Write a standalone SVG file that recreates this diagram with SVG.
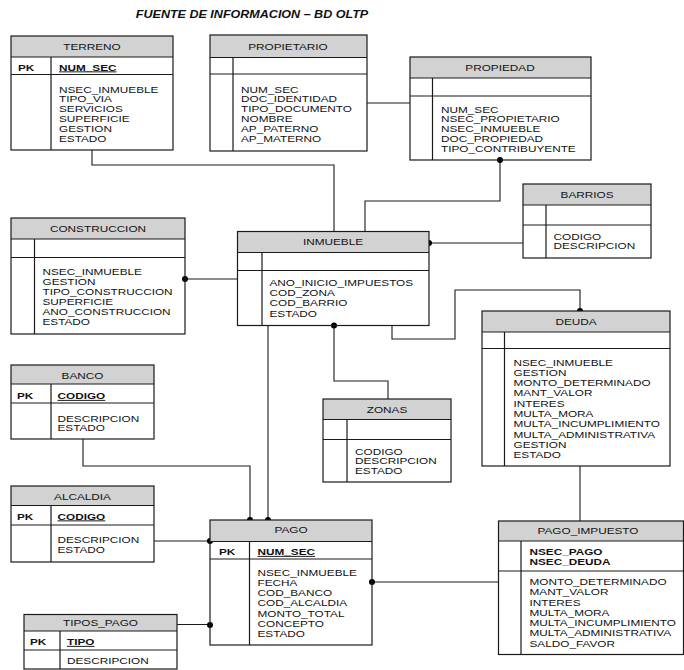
<svg xmlns="http://www.w3.org/2000/svg" width="684" height="670" viewBox="0 0 684 670">
<style>
  .hd{fill:#d2d2d2;stroke:none}
  .bx{fill:none;stroke:#1a1a1a;stroke-width:1.2}
  .ln{stroke:#1a1a1a;stroke-width:1.2}
  text{font-family:"Liberation Sans",Arial,sans-serif;font-size:9.5px;fill:#111}
  .ttl{text-anchor:middle}
  .k{font-weight:bold}
  .ku{font-weight:bold;text-decoration:underline}
  .main{font-family:"Liberation Sans",Arial,sans-serif;font-size:10.2px;font-weight:bold;font-style:italic;text-anchor:middle}
  .cn{fill:none;stroke:#1a1a1a;stroke-width:1.1}
  .dot{fill:#000}
</style>
<rect width="684" height="670" fill="#fff"/>
<text class="main" transform="translate(252,18) scale(1.23,1)">FUENTE DE INFORMACION – BD OLTP</text>

<!-- relationship lines -->
<g id="connectors">
  <path class="cn" d="M92,150V165H334V231.5"/>
  <path class="cn" d="M500,160V201H365V231.5"/>
  <path class="cn" d="M367,103H410"/>
  <path class="cn" d="M429,243H523"/>
  <path class="cn" d="M185,279H237.5"/>
  <path class="cn" d="M334,325.5V381H388V399"/>
  <path class="cn" d="M392,325.5V339H455V290H580V311"/>
  <path class="cn" d="M268,325.5V520"/>
  <path class="cn" d="M83,439V466H250V520"/>
  <path class="cn" d="M154,541H210"/>
  <path class="cn" d="M177,624.5H210"/>
  <path class="cn" d="M372,582H498.5"/>
  <path class="cn" d="M580,466V521"/>
  <circle class="dot" cx="500" cy="160" r="3"/>
  <circle class="dot" cx="429" cy="243" r="3"/>
  <circle class="dot" cx="185" cy="279" r="3"/>
  <circle class="dot" cx="334" cy="325.5" r="3"/>
  <circle class="dot" cx="580" cy="311" r="3"/>
  <circle class="dot" cx="250" cy="520" r="3"/>
  <circle class="dot" cx="268" cy="520" r="3"/>
  <circle class="dot" cx="210" cy="541" r="3"/>
  <circle class="dot" cx="210" cy="625" r="3"/>
  <circle class="dot" cx="372" cy="582" r="3"/>
</g>

<g id="terreno">
  <rect class="hd" x="11" y="36" width="162" height="21"/>
  <rect class="bx" x="11" y="36" width="162" height="114"/>
  <path class="ln" d="M11,57H173M11,74.5H173M51,57V150"/>
  <text class="ttl" transform="translate(92,49.5) scale(1.24,1)">TERRENO</text>
  <text class="k" transform="translate(18,70.5) scale(1.24,1)">PK</text>
  <text class="ku" transform="translate(59,70.5) scale(1.24,1)">NUM_SEC</text>
  <g transform="translate(59,92.5) scale(1.24,1)">
    <text y="0">NSEC_INMUEBLE</text><text y="10">TIPO_VIA</text><text y="20">SERVICIOS</text>
    <text y="30">SUPERFICIE</text><text y="40">GESTION</text><text y="50">ESTADO</text>
  </g>
</g>

<g id="propietario">
  <rect class="hd" x="210" y="35" width="157" height="22.5"/>
  <rect class="bx" x="210" y="35" width="157" height="116"/>
  <path class="ln" d="M210,57.5H367M210,74H367M233,57.5V151"/>
  <text class="ttl" transform="translate(288,49.5) scale(1.24,1)">PROPIETARIO</text>
  <g transform="translate(241,92.5) scale(1.24,1)">
    <text y="0">NUM_SEC</text><text y="10">DOC_IDENTIDAD</text><text y="20">TIPO_DOCUMENTO</text>
    <text y="30">NOMBRE</text><text y="40">AP_PATERNO</text><text y="50">AP_MATERNO</text>
  </g>
</g>

<g id="propiedad">
  <rect class="hd" x="410" y="57" width="181" height="21"/>
  <rect class="bx" x="410" y="57" width="181" height="103"/>
  <path class="ln" d="M410,78H591M410,96H591M432.5,78V160"/>
  <text class="ttl" transform="translate(500,71) scale(1.24,1)">PROPIEDAD</text>
  <g transform="translate(441,112.5) scale(1.24,1)">
    <text y="0">NUM_SEC</text><text y="10">NSEC_PROPIETARIO</text><text y="20">NSEC_INMUEBLE</text>
    <text y="30">DOC_PROPIEDAD</text><text y="40">TIPO_CONTRIBUYENTE</text>
  </g>
</g>

<g id="barrios">
  <rect class="hd" x="523" y="184" width="128" height="21"/>
  <rect class="bx" x="523" y="184" width="128" height="74"/>
  <path class="ln" d="M523,205H651M523,225H651M546,205V258"/>
  <text class="ttl" transform="translate(587,198) scale(1.24,1)">BARRIOS</text>
  <g transform="translate(553.5,239.5) scale(1.24,1)">
    <text y="0">CODIGO</text><text y="10">DESCRIPCION</text>
  </g>
</g>

<g id="construccion">
  <rect class="hd" x="11" y="218" width="174" height="21"/>
  <rect class="bx" x="11" y="218" width="174" height="116"/>
  <path class="ln" d="M11,239H185M11,257.5H185M34.5,239V334"/>
  <text class="ttl" transform="translate(98,231.5) scale(1.24,1)">CONSTRUCCION</text>
  <g transform="translate(42.5,275) scale(1.24,1)">
    <text y="0">NSEC_INMUEBLE</text><text y="10">GESTION</text><text y="20">TIPO_CONSTRUCCION</text>
    <text y="30">SUPERFICIE</text><text y="40">ANO_CONSTRUCCION</text><text y="50">ESTADO</text>
  </g>
</g>

<g id="inmueble">
  <rect class="hd" x="237.5" y="231.5" width="191.5" height="21"/>
  <rect class="bx" x="237.5" y="231.5" width="191.5" height="94"/>
  <path class="ln" d="M237.5,252.5H429M237.5,270.5H429M262,252.5V325.5"/>
  <text class="ttl" transform="translate(333,245) scale(1.24,1)">INMUEBLE</text>
  <g transform="translate(269.5,285.5) scale(1.24,1)">
    <text y="0">ANO_INICIO_IMPUESTOS</text><text y="10.4">COD_ZONA</text>
    <text y="20.8">COD_BARRIO</text><text y="31.2">ESTADO</text>
  </g>
</g>

<g id="zonas">
  <rect class="hd" x="323" y="399" width="128" height="20.5"/>
  <rect class="bx" x="323" y="399" width="128" height="83"/>
  <path class="ln" d="M323,419.5H451M323,439.5H451M347,419.5V482"/>
  <text class="ttl" transform="translate(387,412.5) scale(1.24,1)">ZONAS</text>
  <g transform="translate(355,454.5) scale(1.24,1)">
    <text y="0">CODIGO</text><text y="10">DESCRIPCION</text><text y="20">ESTADO</text>
  </g>
</g>

<g id="deuda">
  <rect class="hd" x="482" y="311" width="188" height="21"/>
  <rect class="bx" x="482" y="311" width="188" height="155"/>
  <path class="ln" d="M482,332H670M482,348.5H670M504.5,332V466"/>
  <text class="ttl" transform="translate(576,325) scale(1.24,1)">DEUDA</text>
  <g transform="translate(513.5,365.5) scale(1.24,1)">
    <text y="0">NSEC_INMUEBLE</text><text y="10.3">GESTION</text><text y="20.6">MONTO_DETERMINADO</text>
    <text y="30.9">MANT_VALOR</text><text y="41.2">INTERES</text><text y="51.5">MULTA_MORA</text>
    <text y="61.8">MULTA_INCUMPLIMIENTO</text><text y="72.1">MULTA_ADMINISTRATIVA</text>
    <text y="82.4">GESTION</text><text y="92.7">ESTADO</text>
  </g>
</g>

<g id="banco">
  <rect class="hd" x="11" y="365" width="143" height="19"/>
  <rect class="bx" x="11" y="365" width="143" height="74"/>
  <path class="ln" d="M11,384H154M11,403H154M51,384V439"/>
  <text class="ttl" transform="translate(82.5,378.5) scale(1.24,1)">BANCO</text>
  <text class="k" transform="translate(17,399) scale(1.24,1)">PK</text>
  <text class="ku" transform="translate(57.5,399) scale(1.24,1)">CODIGO</text>
  <g transform="translate(57.5,421.5) scale(1.24,1)">
    <text y="0">DESCRIPCION</text><text y="10">ESTADO</text>
  </g>
</g>

<g id="alcaldia">
  <rect class="hd" x="11" y="486" width="143" height="19.5"/>
  <rect class="bx" x="11" y="486" width="143" height="76"/>
  <path class="ln" d="M11,505.5H154M11,525H154M51,505.5V562"/>
  <text class="ttl" transform="translate(82.5,499.5) scale(1.24,1)">ALCALDIA</text>
  <text class="k" transform="translate(17,519.5) scale(1.24,1)">PK</text>
  <text class="ku" transform="translate(57.5,519.5) scale(1.24,1)">CODIGO</text>
  <g transform="translate(57.5,543) scale(1.24,1)">
    <text y="0">DESCRIPCION</text><text y="10">ESTADO</text>
  </g>
</g>

<g id="pago">
  <rect class="hd" x="210" y="520" width="162" height="21.5"/>
  <rect class="bx" x="210" y="520" width="162" height="125"/>
  <path class="ln" d="M210,541.5H372M210,559H372M249.5,541.5V645"/>
  <text class="ttl" transform="translate(291,533) scale(1.24,1)">PAGO</text>
  <text class="k" transform="translate(219,555) scale(1.24,1)">PK</text>
  <text class="ku" transform="translate(257.5,555) scale(1.24,1)">NUM_SEC</text>
  <g transform="translate(257.5,575.5) scale(1.24,1)">
    <text y="0">NSEC_INMUEBLE</text><text y="10.3">FECHA</text><text y="20.6">COD_BANCO</text>
    <text y="30.9">COD_ALCALDIA</text><text y="41.2">MONTO_TOTAL</text><text y="51.5">CONCEPTO</text>
    <text y="61.8">ESTADO</text>
  </g>
</g>

<g id="pago_impuesto">
  <rect class="hd" x="498.5" y="521" width="185" height="20"/>
  <rect class="bx" x="498.5" y="521" width="185" height="133.5"/>
  <path class="ln" d="M498.5,541H683.5M498.5,571H683.5M521,541V654.5"/>
  <text class="ttl" transform="translate(588,534) scale(1.24,1)">PAGO_IMPUESTO</text>
  <g transform="translate(529.5,555) scale(1.24,1)">
    <text class="k" y="0">NSEC_PAGO</text><text class="k" y="10">NSEC_DEUDA</text>
  </g>
  <g transform="translate(529.5,585) scale(1.24,1)">
    <text y="0">MONTO_DETERMINADO</text><text y="10.3">MANT_VALOR</text><text y="20.6">INTERES</text>
    <text y="30.9">MULTA_MORA</text><text y="41.2">MULTA_INCUMPLIMIENTO</text>
    <text y="51.5">MULTA_ADMINISTRATIVA</text><text y="61.8">SALDO_FAVOR</text>
  </g>
</g>

<g id="tipos_pago">
  <rect class="hd" x="24" y="614.5" width="153" height="16.5"/>
  <rect class="bx" x="24" y="614.5" width="153" height="54.5"/>
  <path class="ln" d="M24,631H177M24,650H177M60,631V669"/>
  <text class="ttl" transform="translate(100.5,626) scale(1.24,1)">TIPOS_PAGO</text>
  <text class="k" transform="translate(30,645) scale(1.24,1)">PK</text>
  <text class="ku" transform="translate(67,645) scale(1.24,1)">TIPO</text>
  <text transform="translate(67,663.5) scale(1.24,1)">DESCRIPCION</text>
</g>
</svg>
